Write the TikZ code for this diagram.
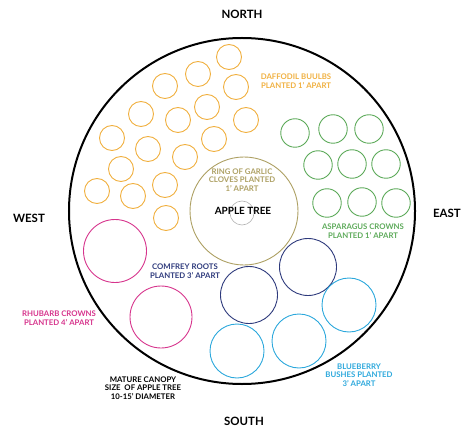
\documentclass[tikz,border=0pt]{standalone}
\usepackage{fontspec}
\setmainfont{Lato}
\usetikzlibrary{positioning}

\definecolor{daffodil}{HTML}{F0B040}
\definecolor{asparagus}{HTML}{5DAA5A}
\definecolor{rhubarb}{HTML}{D6348C}
\definecolor{comfrey}{HTML}{2E3A7C}
\definecolor{blueberry}{HTML}{2CA8DC}
\definecolor{garlic}{HTML}{ADA063}

\begin{document}
\begin{tikzpicture}[x=1bp, y=-1bp,
    plant/.style={circle, draw, line width=0.9bp, inner sep=0pt},
    tag/.style={align=center, font=\bfseries\fontsize{7.8}{8.8}\selectfont},
    compass/.style={font=\bfseries\fontsize{11.5}{12}\selectfont}]
        \useasboundingbox (0,0) rectangle (473,434);

        % canopy and the tree
        \node[circle, draw, line width=2bp, minimum size=346bp, inner sep=0pt] (canopy) at (242,211) {};
        \node[plant, garlic, minimum size=108bp] (ring) at (244,211) {};
        \node[circle, draw=black!30, line width=0.6bp, minimum size=24bp, inner sep=0pt] (trunk) at (242,213) {};
        \node[font=\bfseries\fontsize{10}{11}\selectfont] (tree) at (243,211) {APPLE TREE};

        % daffodils
        \foreach \x/\y [count=\i] in {229/57, 198/74, 236/87, 165/86, 141/114, 207/107,
            178/120, 246/120, 112/138, 148/149, 214/139, 185/157, 121/169, 165/185,
            97/191, 133/196, 166/218}
          \node[plant, daffodil, minimum size=25bp] (d\i) at (\x,\y) {};

        % asparagus
        \foreach \x/\y [count=\i] in {295/133, 333/129, 369/129, 318/165, 352/164,
            386/164, 327/203, 362/202, 396/203}
          \node[plant, asparagus, minimum size=28.5bp] (a\i) at (\x,\y) {};

        % rhubarb
        \node[plant, rhubarb, minimum size=63bp] (r1) at (115,251) {};
        \node[plant, rhubarb, minimum size=62bp] (r2) at (161,317) {};

        % comfrey
        \node[plant, comfrey, minimum size=57bp] (c1) at (249,295) {};
        \node[plant, comfrey, minimum size=57bp] (c2) at (308,267) {};

        % blueberry
        \node[plant, blueberry, minimum size=54bp] (b1) at (349,305) {};
        \node[plant, blueberry, minimum size=54bp] (b2) at (299,341) {};
        \node[plant, blueberry, minimum size=54bp] (b3) at (237,351) {};

        % labels
        \node[tag, daffodil] (daffodiltag) at (296,81) {DAFFODIL BUULBS\\PLANTED 1' APART};
        \node[tag, asparagus] (asparagustag) at (363,231) {ASPARAGUS CROWNS\\PLANTED 1' APART};
        \node[tag, garlic] (garlictag) at (242,180) {RING OF GARLIC\\CLOVES PLANTED\\1' APART};
        \node[tag, rhubarb] (rhubarbtag) at (59,318) {RHUBARB CROWNS\\PLANTED 4' APART};
        \node[tag, comfrey] (comfreytag) at (185,271) {COMFREY ROOTS\\PLANTED 3' APART};
        \node[tag, blueberry] (blueberrytag) at (359,375) {BLUEBERRY\\BUSHES PLANTED\\3' APART};
        \node[tag] (canopytag) at (143,388) {MATURE CANOPY\\SIZE\ \ OF APPLE TREE\\10-15' DIAMETER};

        % compass points
        \node[compass] (north) at (242,14) {NORTH};
        \node[compass] (south) at (244,421) {SOUTH};
        \node[compass] (west) at (29,218) {WEST};
        \node[compass] (east) at (447,213) {EAST};
\end{tikzpicture}
\end{document}
